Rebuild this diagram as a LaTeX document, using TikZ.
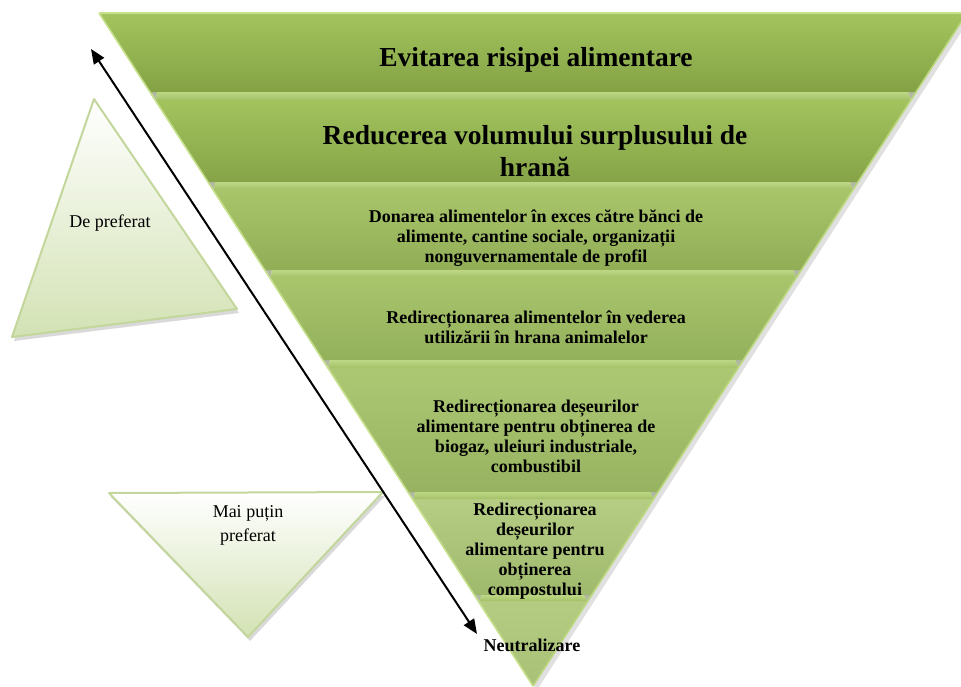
\documentclass[tikz,border=0pt]{standalone}
\usepackage{fontspec}
\setmainfont{Liberation Serif}
\usetikzlibrary{arrows.meta}

\definecolor{sideline}{HTML}{C3D69B}
\definecolor{sidefill}{HTML}{D3E2B4}
\definecolor{edgehi}{HTML}{C6E08C}
\definecolor{sepmid}{HTML}{EDF6D0}
\definecolor{septop}{HTML}{BDD785}
\definecolor{sepbot}{HTML}{A4C167}
\definecolor{t1a}{HTML}{A3C45E}\definecolor{t1b}{HTML}{84A244}
\definecolor{t2a}{HTML}{A2C35E}\definecolor{t2b}{HTML}{86A447}
\definecolor{t3a}{HTML}{A8C56A}\definecolor{t3b}{HTML}{91AE57}
\definecolor{t4a}{HTML}{A9C56C}\definecolor{t4b}{HTML}{93B05B}
\definecolor{t5a}{HTML}{ADC873}\definecolor{t5b}{HTML}{97B361}
\definecolor{t6a}{HTML}{B5CD84}\definecolor{t6b}{HTML}{9FB96C}
\definecolor{t7a}{HTML}{B4CC82}\definecolor{t7b}{HTML}{A8C177}

\tikzset{
  tierbig/.style={font=\bfseries\fontsize{20.6}{24}\selectfont, align=center, inner sep=0pt},
  tiertext/.style={font=\bfseries\fontsize{13.5}{15}\selectfont, align=center, inner sep=0pt},
  sidetext/.style={font=\fontsize{13.5}{18}\selectfont, align=center, inner sep=0pt},
  sidetri/.style={draw=sideline, line width=1.5pt, line join=round},
  edgeline/.style={draw=edgehi, line width=1.2pt},
}

\begin{document}
\begin{tikzpicture}[x=0.75pt, y=-0.75pt]
  \useasboundingbox (0,0) rectangle (961,686);

  % shadow of the big triangle
  \fill[black, opacity=0.12] (102,17) -- (971,17) -- (537,690) -- cycle;

  % tiers
  \foreach \yt/\yb/\ct/\cb in {13/92/t1a/t1b, 100/182/t2a/t2b, 190/270/t3a/t3b,
      278/360/t4a/t4b, 368/492/t5a/t5b, 499/595/t6a/t6b, 601/686/t7a/t7b}{
    \pgfmathsetmacro\xlt{99+0.645*(\yt-13)}
    \pgfmathsetmacro\xrt{967-0.645*(\yt-13)}
    \pgfmathsetmacro\xlb{99+0.645*(\yb-13)}
    \pgfmathsetmacro\xrb{967-0.645*(\yb-13)}
    \shade[top color=\ct, bottom color=\cb]
      (\xlt,\yt) -- (\xrt,\yt) -- (\xrb,\yb) -- (\xlb,\yb) -- cycle;
  }

  % ledges between the tiers
  \foreach \yt/\yb in {92/100, 182/190, 270/278, 360/368, 492/499, 595/601}{
    \pgfmathsetmacro\xlt{99+0.645*(\yt-13)}
    \pgfmathsetmacro\xrt{967-0.645*(\yt-13)}
    \pgfmathsetmacro\xlb{99+0.645*(\yb-13)}
    \pgfmathsetmacro\xrb{967-0.645*(\yb-13)}
    \fill[t1b!70!black, opacity=0.35]
      (\xlt,\yt) -- (\xlt+7,\yt) -- (\xlb+1,\yb) -- cycle;
    \fill[t1b!70!black, opacity=0.35]
      (\xrt,\yt) -- (\xrt-8,\yt) -- (\xrb,\yb) -- cycle;
    \shade[top color=septop, middle color=sepmid, bottom color=sepbot]
      (\xlt+7,\yt) -- (\xrt-8,\yt) -- (\xrb,\yb) -- (\xlb+1,\yb) -- cycle;
  }

  % bright rims
  \draw[edgeline] (99,13) -- (967,13);
  \draw[edgeline] (99,13) -- (533,686);
  \draw[edgeline, draw=edgehi!70!t1a] (967,13) -- (533,686);

  % tier labels
  \node[tierbig] (b1) at (536,60) {Evitarea risipei alimentare};
  \node[tierbig] (b2) at (535,151) {Reducerea volumului surplusului de\\hrană};
  \node[tiertext] (b3) at (536,238) {Donarea alimentelor în exces către bănci de\\alimente, cantine sociale, organizații\\nonguvernamentale de profil};
  \node[tiertext] (b4) at (536,327) {Redirecționarea alimentelor în vederea\\utilizării în hrana animalelor};
  \node[tiertext] (b5) at (536,436) {Redirecționarea deșeurilor\\alimentare pentru obținerea de\\biogaz, uleiuri industriale,\\combustibil};
  \node[tiertext] (b6) at (535,551) {Redirecționarea\\deșeurilor\\alimentare pentru\\obținerea\\compostului};
  \node[tiertext] (b7) at (532,645) {Neutralizare};

  % side triangles
  \fill[black, opacity=0.15] (96,103) -- (239,313) -- (14,341) -- cycle;
  \shade[sidetri, top color=white, bottom color=sidefill]
    (94,99) -- (237,309) -- (12,337) -- cycle;
  \node[sidetext] (pref) at (110,223) {De preferat};

  \fill[black, opacity=0.15] (111,497) -- (385,496) -- (250,641) -- cycle;
  \shade[sidetri, top color=white, bottom color=sidefill]
    (109,493) -- (383,492) -- (248,637) -- cycle;
  \node[sidetext] (less) at (248,525) {Mai puțin\\preferat};

  % direction arrow
  \coordinate (up) at (91,49);
  \coordinate (down) at (477,634);
  \draw[{Triangle[length=11pt,width=9pt]}-{Triangle[length=11pt,width=9pt]}, line width=1.5pt]
    (up) -- (down);
\end{tikzpicture}
\end{document}
